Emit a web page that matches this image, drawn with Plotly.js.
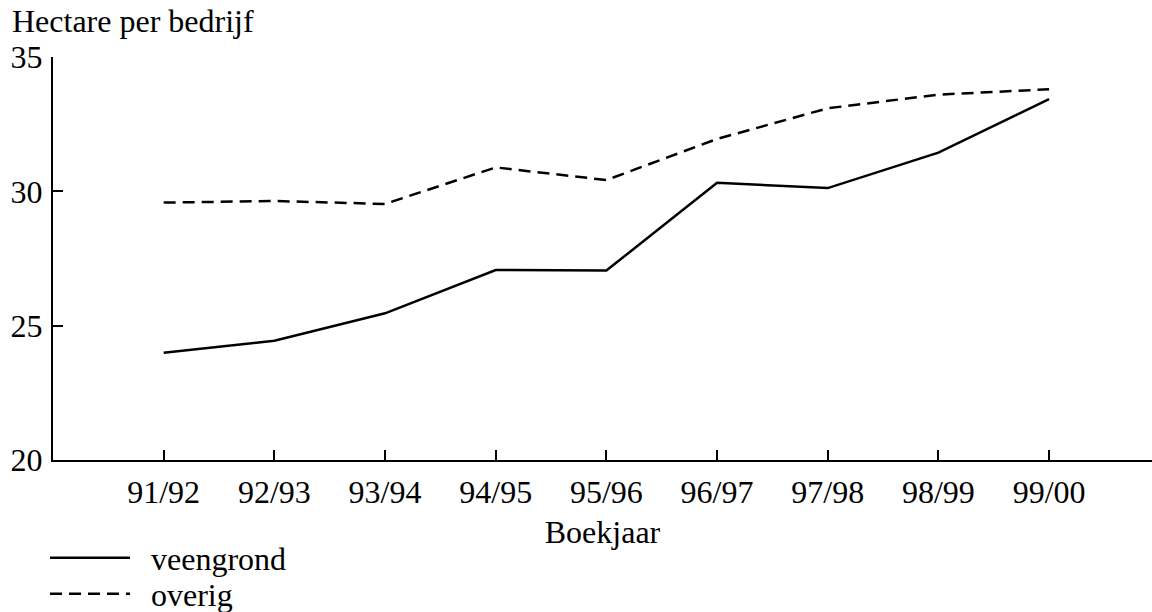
<!DOCTYPE html>
<html>
<head>
<meta charset="utf-8">
<script src="https://cdn.plot.ly/plotly-3.0.1.min.js"></script>
<style>html,body{margin:0;padding:0;background:#fff;}#chart{width:1152px;height:612px;}</style>
</head>
<body>
<div id="chart"></div>
<script>
const categories = ["91/92","92/93","93/94","94/95","95/96","96/97","97/98","98/99","99/00"];
const veengrond = [23.99, 24.44, 25.46, 27.07, 27.05, 30.32, 30.12, 31.44, 33.43];
const overig = [29.58, 29.64, 29.53, 30.89, 30.42, 31.95, 33.09, 33.6, 33.8];
const yTicks = [20, 25, 30, 35];
const seriesNames = ["veengrond", "overig"];

const idx = categories.map((c, i) => i);
const font = {family: "Liberation Serif", size: 32, color: "#000"};
const pad = "\u00a0\u00a0";

const traces = [
  {x: idx, y: veengrond, name: pad + seriesNames[0], type: "scatter", mode: "lines",
   legend: "legend", line: {color: "#000", width: 2.5}},
  {x: idx, y: overig, name: pad + seriesNames[1], type: "scatter", mode: "lines",
   legend: "legend2", line: {color: "#000", width: 2.5, dash: "12px,7px"}}
];

function legendAt(yPx) {
  return {x: 45 / 1152, xref: "container", xanchor: "left",
          y: 1 - yPx / 612, yref: "container", yanchor: "middle",
          font: font, itemwidth: 80, bgcolor: "rgba(0,0,0,0)", borderwidth: 0};
}

const layout = {
  width: 1152, height: 612,
  margin: {l: 53, r: 0, t: 57, b: 152, autoexpand: false},
  paper_bgcolor: "#fff", plot_bgcolor: "#fff",
  font: font,
  showlegend: true,
  legend: legendAt(558),
  legend2: legendAt(594),
  xaxis: {
    range: [-1, 8.93], tickmode: "array", tickvals: idx, ticktext: categories,
    showline: true, linecolor: "#000", linewidth: 2, ticks: "inside", ticklen: 10,
    tickwidth: 2, tickcolor: "#000", showgrid: false, zeroline: false,
    tickfont: font, fixedrange: true, ticklabelstandoff: 3, automargin: false,
    title: {text: "Boekjaar", font: font, standoff: 11}
  },
  yaxis: {
    range: [20, 35], tickmode: "array", tickvals: yTicks,
    showline: true, linecolor: "#000", linewidth: 2, ticks: "inside", ticklen: 10,
    tickwidth: 2, tickcolor: "#000", showgrid: false, zeroline: false,
    tickfont: font, fixedrange: true, ticklabelstandoff: 2, automargin: false
  },
  annotations: [
    {text: "Hectare per bedrijf", xref: "paper", yref: "paper", x: -0.039, y: 1.04,
     xanchor: "left", yanchor: "bottom", showarrow: false, font: font}
  ]
};

Plotly.newPlot("chart", traces, layout, {displayModeBar: false, staticPlot: true});
</script>
</body>
</html>
